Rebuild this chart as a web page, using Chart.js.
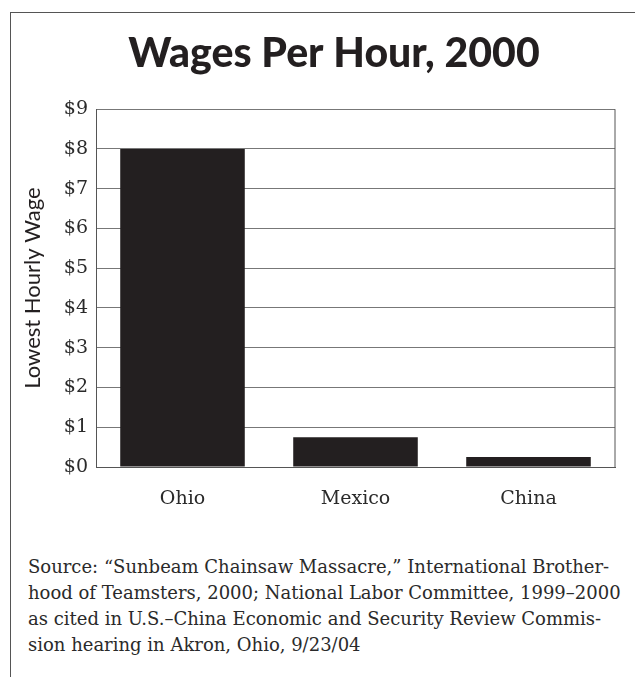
<!DOCTYPE html>
<html>
<head>
<meta charset="utf-8">
<script src="https://cdn.jsdelivr.net/npm/chart.js@4"></script>
<style>
  html, body { margin: 0; padding: 0; background: #fff; }
  body { width: 635px; height: 677px; position: relative; overflow: hidden; }
  #frame {
    position: absolute; left: 10px; top: 12px; right: -2px; bottom: -2px;
    border-left: 1.5px solid #555; border-top: 1.5px solid #555;
  }
  #wageChart { position: absolute; left: 0; top: 0; }
  #source {
    position: absolute; left: 28px; top: 554px; width: 605px;
    font-family: "DejaVu Serif", serif; font-size: 18px; line-height: 26px;
    color: #2a2a2a; white-space: nowrap;
  }
</style>
</head>
<body>
<div id="frame"></div>
<canvas id="wageChart" width="635" height="520"></canvas>
<div id="source">Source: “Sunbeam Chainsaw Massacre,” International Brother-<br>hood of Teamsters, 2000; National Labor Committee, 1999–2000<br>as cited in U.S.–China Economic and Security Review Commis-<br>sion hearing in Akron, Ohio, 9/23/04</div>
<script>
document.addEventListener('DOMContentLoaded', function () {
    const places = ['Ohio', 'Mexico', 'China'];
    const lowestWage = [8, 0.75, 0.25];
    const yTickLabels = ['$0', '$1', '$2', '$3', '$4', '$5', '$6', '$7', '$8', '$9'];

    // right edge of the plot box
    const plotFrame = {
        id: 'plotFrame',
        afterDraw(chart) {
            const { ctx, chartArea } = chart;
            ctx.save();
            ctx.strokeStyle = '#555';
            ctx.lineWidth = 1;
            ctx.beginPath();
            ctx.moveTo(chartArea.right, chartArea.top);
            ctx.lineTo(chartArea.right, chartArea.bottom);
            ctx.stroke();
            ctx.restore();
        }
    };

    const ctx = document.getElementById('wageChart').getContext('2d');
    new Chart(ctx, {
        type: 'bar',
        data: {
            labels: places,
            datasets: [{
                label: 'Lowest Hourly Wage',
                data: lowestWage,
                backgroundColor: '#231f20',
                borderWidth: 0,
                categoryPercentage: 1,
                barPercentage: 0.72
            }]
        },
        options: {
            responsive: false,
            animation: false,
            // left padding pushes the centred title right, like the original
            layout: { padding: { left: 53, right: 20, top: 0, bottom: 0 } },
            plugins: {
                legend: { display: false },
                tooltip: { enabled: false },
                title: {
                    display: true,
                    text: 'Wages Per Hour, 2000',
                    color: '#231f20',
                    font: { family: 'Lato', size: 41, weight: 900, lineHeight: 1.2 },
                    padding: { top: 29, bottom: 31 }
                }
            },
            scales: {
                x: {
                    grid: { display: false },
                    border: { color: '#555', width: 1 },
                    ticks: {
                        color: '#2a2a2a',
                        padding: 13,
                        font: { family: 'DejaVu Serif', size: 19 }
                    },
                    afterFit(scale) { scale.height = 53; }
                },
                y: {
                    min: 0,
                    max: 9,
                    grid: { color: '#777', lineWidth: 1, drawTicks: false },
                    border: { color: '#555', width: 1 },
                    ticks: {
                        stepSize: 1,
                        padding: 8,
                        color: '#2a2a2a',
                        font: { family: 'DejaVu Serif', size: 19 },
                        callback: function (v) { return yTickLabels[v]; }
                    },
                    title: {
                        display: true,
                        text: 'Lowest Hourly Wage',
                        color: '#231f20',
                        font: { family: 'Lato', size: 22, lineHeight: 1.2 },
                        padding: { top: -33, bottom: 0 }
                    },
                    afterFit(scale) { scale.width = 43; }
                }
            }
        },
        plugins: [plotFrame]
    });
});
</script>
</body>
</html>
